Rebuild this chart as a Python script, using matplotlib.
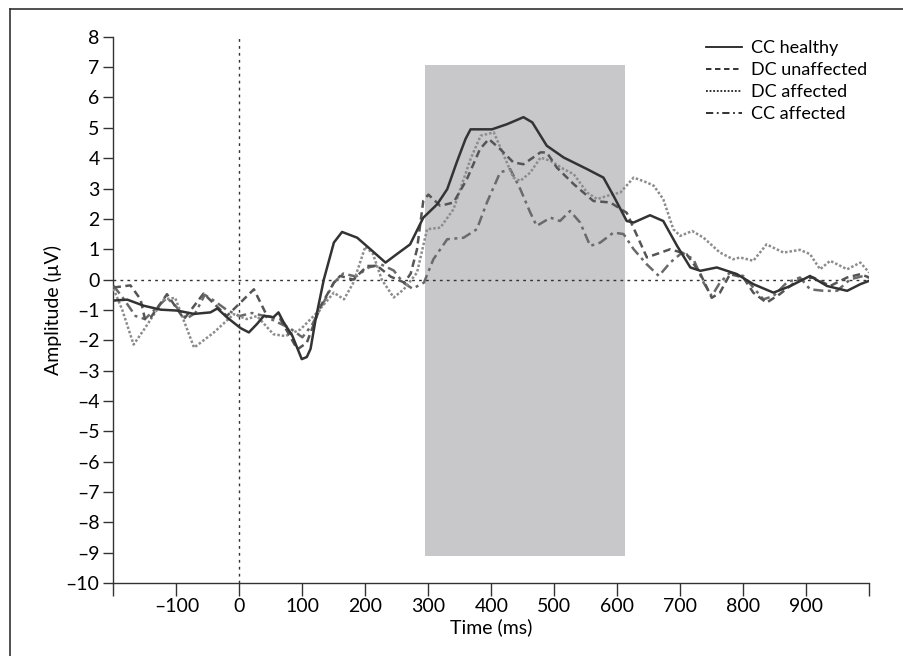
import numpy as np
import matplotlib
matplotlib.use('Agg')
import matplotlib.pyplot as plt
from matplotlib.patches import Rectangle
from matplotlib.lines import Line2D

plt.rcParams['font.family'] = ['Lato', 'DejaVu Sans']

# CC healthy (solid)
t_cch = [-200, -178, -152, -125, -99, -72, -46, -35, -20, 2, 15, 28, 39, 54, 62, 70, 84, 99, 107, 113,
         121, 134, 150, 163, 187, 208, 232, 250, 271, 292, 314, 330, 345, 359, 367, 401, 425, 451, 465,
         488, 515, 552, 578, 594, 615, 626, 652, 673, 695, 716, 732, 758, 790, 816, 848, 875, 906, 933,
         965, 986, 1000]
v_cch = [-0.69, -0.66, -0.86, -0.99, -1.02, -1.13, -1.08, -0.95, -1.24, -1.6, -1.74, -1.46, -1.19, -1.24,
         -1.08, -1.4, -1.85, -2.62, -2.55, -2.28, -1.31, 0.0, 1.22, 1.57, 1.38, 1.0, 0.56, 0.84, 1.16, 2.04,
         2.48, 2.98, 3.86, 4.63, 4.95, 4.95, 5.12, 5.35, 5.18, 4.41, 4.02, 3.64, 3.36, 2.76, 1.93, 1.88,
         2.12, 1.93, 1.11, 0.4, 0.29, 0.4, 0.18, -0.15, -0.43, -0.21, 0.12, -0.21, -0.37, -0.15, -0.04]

# DC unaffected (dashed)
t_dcu = [-200, -173, -157, -150, -141, -115, -88, -57, -20, 23, 44, 65, 92, 107, 129, 150, 160, 181, 203,
         219, 240, 262, 272, 282, 292, 300, 319, 340, 361, 382, 396, 414, 435, 451, 478, 488, 504, 531,
         562, 589, 615, 647, 684, 710, 731, 750, 763, 779, 800, 816, 837, 858, 885, 911, 938, 965, 986, 1000]
v_dcu = [-0.26, -0.19, -0.65, -1.3, -1.25, -0.48, -1.3, -0.46, -1.2, -0.32, -1.2, -1.3, -2.3, -2.08, -0.87,
         -0.1, 0.12, 0.0, 0.45, 0.45, 0.1, -0.1, 0.2, 1.0, 2.6, 2.8, 2.43, 2.54, 3.3, 4.3, 4.63, 4.3, 3.86,
         3.8, 4.19, 4.19, 3.69, 3.14, 2.59, 2.54, 2.2, 0.73, 1.0, 0.84, 0.23, -0.6, -0.43, 0.18, 0.07,
         -0.43, -0.76, -0.48, -0.04, 0.07, -0.21, 0.07, 0.18, 0.07]

# DC affected (dotted)
t_dca = [-200, -186, -168, -150, -120, -102, -72, -41, -9, 12, 28, 54, 73, 97, 123, 150, 166, 181, 200,
         212, 226, 245, 261, 282, 298, 319, 340, 356, 367, 383, 404, 420, 435, 446, 462, 478, 494, 515,
         531, 552, 568, 584, 605, 626, 647, 658, 673, 689, 700, 719, 737, 763, 784, 795, 816, 837, 864,
         890, 906, 922, 938, 965, 986, 1000]
v_dca = [-0.3, -1.0, -2.14, -1.6, -0.65, -0.6, -2.24, -1.75, -1.14, -1.3, -1.2, -1.8, -1.86, -1.64, -1.09,
         -0.43, -0.65, -0.1, 1.09, 0.85, 0.0, -0.59, -0.32, 0.23, 1.66, 1.71, 2.32, 3.3, 3.97, 4.74, 4.85,
         4.08, 3.36, 3.25, 3.53, 4.02, 3.91, 3.64, 3.47, 2.87, 2.65, 2.76, 2.87, 3.36, 3.2, 3.09, 2.65,
         1.66, 1.44, 1.6, 1.38, 0.89, 0.67, 0.73, 0.62, 1.16, 0.89, 0.98, 0.84, 0.34, 0.62, 0.34, 0.56, 0.23]

# CC affected (dash-dot)
t_cca = [-200, -185, -165, -150, -130, -115, -100, -85, -70, -55, -40, -20, 0, 20, 40, 60, 80, 100, 115,
         130, 150, 165, 185, 205, 225, 245, 260, 275, 293, 308, 330, 356, 377, 393, 414, 430, 446, 462,
         472, 494, 509, 525, 541, 557, 573, 594, 610, 626, 647, 666, 684, 703, 721, 737, 750, 763, 779,
         800, 816, 832, 848, 869, 890, 906, 928, 949, 970, 991, 1000]
v_cca = [-0.2, -0.6, -1.2, -1.3, -0.9, -0.6, -0.9, -1.3, -1.1, -0.5, -0.7, -1.0, -1.2, -1.1, -1.2, -1.4,
         -1.6, -1.9, -1.5, -0.9, -0.1, 0.2, 0.1, 0.4, 0.5, 0.3, -0.1, -0.3, -0.1, 0.67, 1.33, 1.38, 1.66,
         2.54, 3.53, 3.64, 2.98, 2.2, 1.77, 2.04, 1.93, 2.26, 1.88, 1.11, 1.22, 1.55, 1.5, 1.0, 0.5, 0.12,
         0.56, 0.89, 0.67, -0.1, -0.54, -0.1, 0.23, 0.12, -0.26, -0.65, -0.54, -0.1, 0.07, -0.32, -0.37,
         -0.37, 0.01, 0.12, 0.07]

window = (294, 612)
window_amp = (-9.09, 7.08)
labels = ['CC healthy', 'DC unaffected', 'DC affected', 'CC affected']

fig = plt.figure(figsize=(9.04, 6.56), dpi=100)
ax = fig.add_axes([0.1255, 0.111, 0.836, 0.833])

# frame around figure
fig.add_artist(Line2D([10/904, 10/904], [0, 1 - 9/656], transform=fig.transFigure, color='#333333', lw=1.2))
fig.add_artist(Line2D([10/904, 1], [1 - 9/656, 1 - 9/656], transform=fig.transFigure, color='#333333', lw=1.2))

ax.add_patch(Rectangle((window[0], window_amp[0]), window[1] - window[0], window_amp[1] - window_amp[0],
                       facecolor='#c8c8ca', edgecolor='none', zorder=0))
ax.axhline(0, color='#333333', lw=1, ls=(0, (2, 3)), zorder=1)
ax.axvline(0, color='#333333', lw=1, ls=(0, (2, 3)), zorder=1)

ax.plot(t_cca, v_cca, color='#6a6a6a', lw=1.8, ls=(0, (4, 1.8, 1.2, 1.8)), zorder=3)
ax.plot(t_dca, v_dca, color='#8c8c8c', lw=1.8, ls=(0, (1, 0.8)), zorder=3)
ax.plot(t_dcu, v_dcu, color='#555555', lw=1.8, ls=(0, (3, 1.8)), zorder=3)
ax.plot(t_cch, v_cch, color='#333333', lw=1.8, zorder=4)

handles = [Line2D([], [], color='#222222', lw=1.3),
           Line2D([], [], color='#222222', lw=1.3, ls=(0, (3, 2))),
           Line2D([], [], color='#222222', lw=1.3, ls=(0, (1, 1))),
           Line2D([], [], color='#222222', lw=1.3, ls=(0, (4, 2, 1, 2)))]
ax.legend(handles, labels, loc='upper right', bbox_to_anchor=(1.012, 1.013), frameon=False,
          fontsize=13, handlelength=2.0, handletextpad=0.5, labelspacing=0.33, borderaxespad=0.2)

ax.set_xlim(-200, 1000)
ax.set_ylim(-10, 8)
ax.set_xticks(np.arange(-200, 1001, 100))
ax.set_xticklabels([''] + [str(x).replace('-', '\u2013') for x in range(-100, 1000, 100)] + [''])
ax.set_yticks(np.arange(-10, 9, 1))
ax.set_yticklabels([str(y).replace('-', '\u2013') for y in range(-10, 9)])
ax.tick_params(axis='x', direction='out', length=9, width=1, color='#333333', labelsize=14, pad=2)
ax.tick_params(axis='y', direction='out', length=7, width=1, color='#333333', labelsize=14, pad=3)
for s in ['top', 'right']:
    ax.spines[s].set_visible(False)
for s in ['left', 'bottom']:
    ax.spines[s].set_color('#333333')
    ax.spines[s].set_linewidth(1)
ax.set_xlabel('Time (ms)', fontsize=14, labelpad=2)
ax.set_ylabel('Amplitude (\u00b5V)', fontsize=14, labelpad=3)

fig.savefig('out.png', dpi=100)
